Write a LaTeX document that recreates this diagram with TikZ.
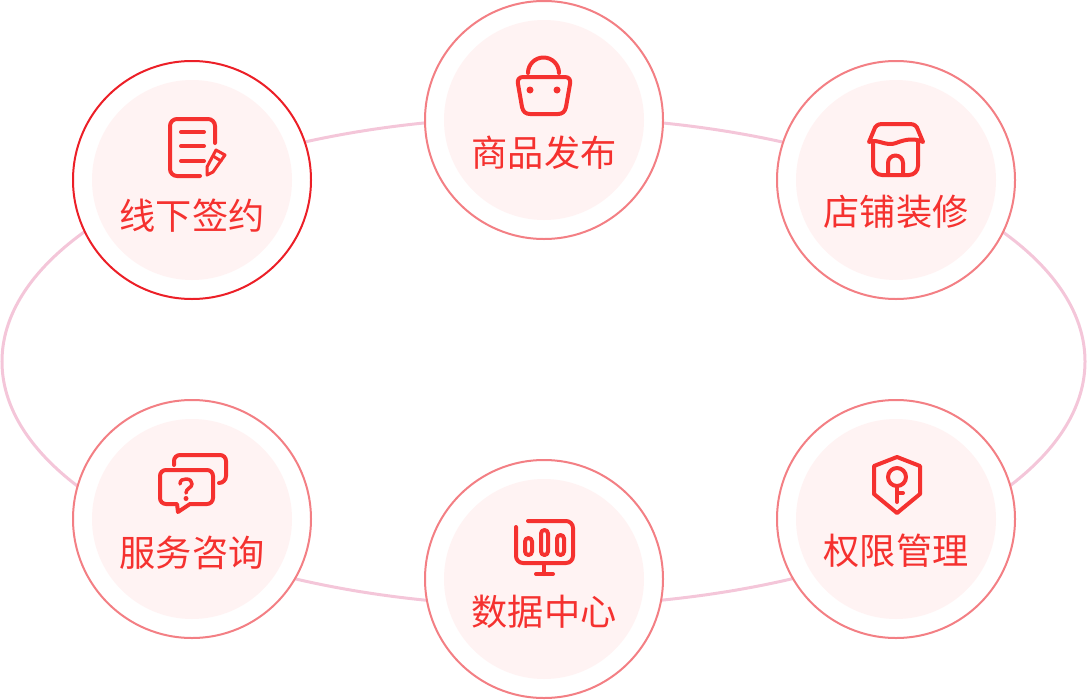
\documentclass[tikz,border=0pt]{standalone}
\usepackage{fontspec}
\setmainfont{Noto Sans CJK SC}
\usepackage{xcolor}

\definecolor{ringpink}{HTML}{F4C6D9}
\definecolor{edgesoft}{HTML}{F37F84}
\definecolor{edgestrong}{HTML}{EC1F27}
\definecolor{discpink}{HTML}{FFF3F3}
\definecolor{iconred}{HTML}{F5312F}

\tikzset{
  outercircle/.style={circle,draw=edgesoft,fill=white,line width=2pt,minimum size=238pt,inner sep=0pt,outer sep=0pt},
  innerdisc/.style={circle,fill=discpink,minimum size=200pt,inner sep=0pt,outer sep=0pt},
  caption/.style={text=iconred,font=\fontsize{36.2}{36}\selectfont,inner sep=0pt},
  iconline/.style={draw=iconred,line width=4pt,line cap=round,line join=round}
}

\begin{document}
\begin{tikzpicture}[x=1pt,y=-1pt]
  \useasboundingbox (0,0) rectangle (1087,699);

  % Draw the pink ring behind the circles
  \draw[ringpink,line width=3pt] (543.5,361.5) ellipse [x radius=541.5,y radius=244.5];

  % Draw the six circles
  \node[outercircle,draw=edgestrong] (signcircle) at (192,180) {};
  \node[outercircle] (goodscircle) at (544,120) {};
  \node[outercircle] (shopcircle) at (896,180) {};
  \node[outercircle] (servicecircle) at (192,519) {};
  \node[outercircle] (datacircle) at (544,579) {};
  \node[outercircle] (rightscircle) at (896,519) {};
  \foreach \name in {sign,goods,shop,service,data,rights}
    \node[innerdisc] (\name disc) at (\name circle) {};

  % Draw the captions
  \node[caption] (signtext) at (192,216) {线下签约};
  \node[caption] (goodstext) at (544,153) {商品发布};
  \node[caption] (shoptext) at (896,212) {店铺装修};
  \node[caption] (servicetext) at (192,553) {服务咨询};
  \node[caption] (datatext) at (544,612) {数据中心};
  \node[caption] (rightstext) at (896,551) {权限管理};

  % Note with pencil
  \draw[iconline] (215,143) -- (215,126) arc[start angle=0,end angle=-90,radius=7] -- (177,119)
    arc[start angle=-90,end angle=-180,radius=7] -- (170,169) arc[start angle=180,end angle=90,radius=7] -- (200,176);
  \draw[iconline] (181,132) -- (204,132);
  \draw[iconline] (181,146) -- (204,146);
  \draw[iconline] (181,161) -- (204,161);
  \draw[iconline,line width=3pt] (216,150) -- (225,155) -- (213,172) -- (207,175) -- (207,167) -- cycle;
  \draw[iconline,line width=3pt] (213,156) -- (221,161);

  % Bag
  \draw[iconline] (528,73) arc[start angle=180,end angle=360,radius=15.5];
  \draw[iconline] (523,77) -- (565,77) .. controls (569,77) and (571,80) .. (570,84)
    -- (566,107) .. controls (565,112) and (562,114) .. (558,114) -- (530,114)
    .. controls (526,114) and (523,112) .. (522,107) -- (518,84) .. controls (517,80) and (519,77) .. (523,77) -- cycle;
  \fill[iconred] (530,90) circle (3.5) (557,90) circle (3.5);

  % Shop
  \draw[iconline] (869,142) -- (874,130) .. controls (875,126) and (878,124) .. (882,124) -- (910,124)
    .. controls (914,124) and (917,126) .. (918,130) -- (923,142)
    .. controls (915,138) and (906,139) .. (896,143) .. controls (886,147) and (877,138) .. (869,142) -- cycle;
  \draw[iconline] (873,142) -- (873,166) arc[start angle=180,end angle=90,radius=9] -- (909,175)
    arc[start angle=90,end angle=0,radius=9] -- (918,142);
  \draw[iconline] (888,175) -- (888,163) arc[start angle=180,end angle=360,radius=7.5] -- (903,175);

  % Chat bubbles
  \draw[iconline] (174,465) -- (174,461) arc[start angle=180,end angle=270,radius=6] -- (220,455)
    arc[start angle=-90,end angle=0,radius=6] -- (226,476) arc[start angle=0,end angle=90,radius=7] -- (219,483);
  \draw[iconline] (166,470) -- (207,470) arc[start angle=-90,end angle=0,radius=6] -- (213,498)
    arc[start angle=0,end angle=90,radius=6] -- (190,504) -- (178,512) -- (177,504) -- (166,504)
    arc[start angle=90,end angle=180,radius=6] -- (160,476) arc[start angle=180,end angle=270,radius=6] -- cycle;
  \draw[iconline,line width=3.5pt] (180,484) .. controls (180,480) and (183,479) .. (186,479)
    .. controls (190,479) and (192,481) .. (192,484) .. controls (192,488) and (186,488) .. (186,493);
  \fill[iconred] (186,498.5) circle (2.5);

  % Screen with bars
  \draw[iconline] (528,521) -- (566,521) arc[start angle=-90,end angle=0,radius=7] -- (573,556)
    arc[start angle=0,end angle=90,radius=7] -- (523,563) arc[start angle=90,end angle=180,radius=7] -- (516,527);
  \draw[iconline] (544,563) -- (544,574);
  \draw[iconline] (536,574) -- (553,574);
  \draw[iconline,rounded corners=3.5pt] (525,538) rectangle (532,555);
  \draw[iconline,rounded corners=3.5pt] (541,530) rectangle (548,555);
  \draw[iconline,rounded corners=3.5pt] (557,535) rectangle (564,555);

  % Shield with key
  \draw[iconline] (897,457) -- (874,466) -- (874,494) -- (897,513) -- (920,494) -- (920,466) -- cycle;
  \draw[iconline] (897,477) circle (9);
  \draw[iconline] (897,486) -- (897,502);
  \draw[iconline] (897,493) -- (903,493);
\end{tikzpicture}
\end{document}
